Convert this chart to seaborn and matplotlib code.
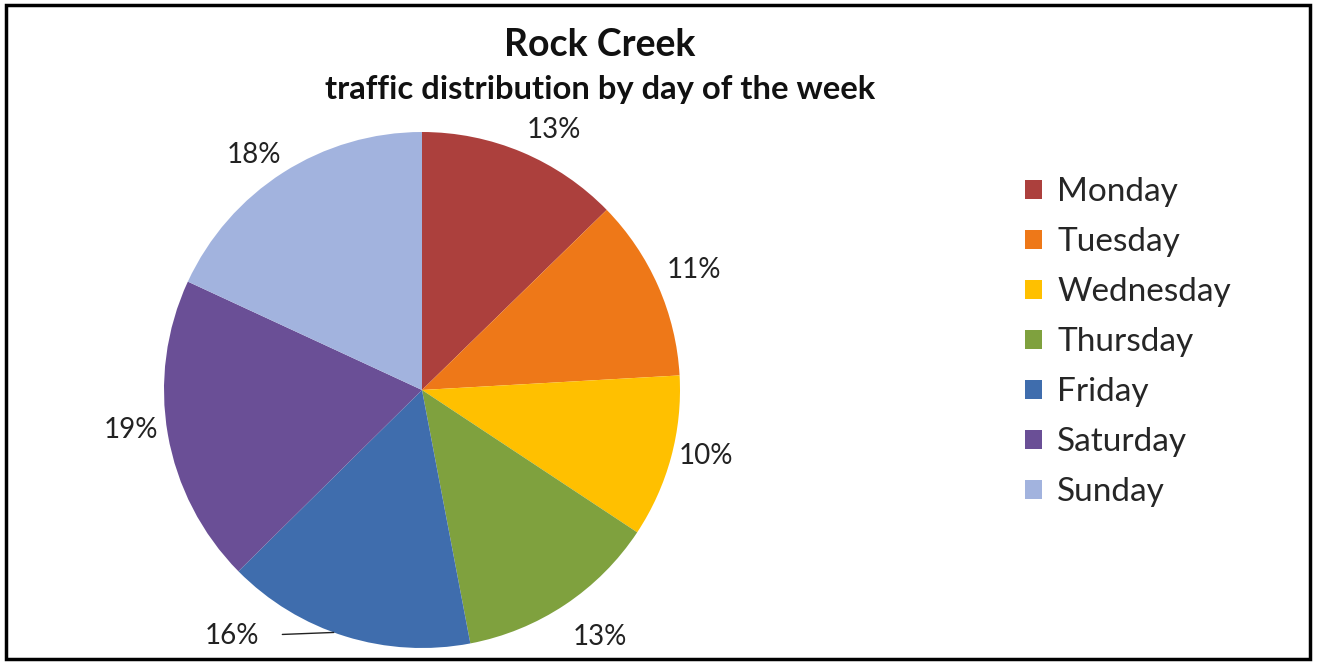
import seaborn as sns
import numpy as np
import matplotlib
matplotlib.use("Agg")
import matplotlib.pyplot as plt
from matplotlib.patches import Patch, Rectangle

# data
days = ["Monday", "Tuesday", "Wednesday", "Thursday", "Friday", "Saturday", "Sunday"]
share = [12.7, 11.4, 10.2, 12.7, 15.6, 19.3, 18.1]
pct_labels = ["13%", "11%", "10%", "13%", "16%", "19%", "18%"]
colors = ["#AC403D", "#EE7818", "#FFC000", "#7FA13E", "#3F6DAD", "#6A4F96", "#A2B3DE"]

sns.set_theme(style="white")
plt.rcParams["font.family"] = ["Lato", "DejaVu Sans"]

W, H = 1317, 662
fig = plt.figure(figsize=(W / 100, H / 100), dpi=100)
fig.patch.set_facecolor("white")

# pie axes: centre (422, 390) px, radius 258 px
cx, cy, r = 422, 390, 258
ax = fig.add_axes([(cx - r) / W, (H - cy - r) / H, 2 * r / W, 2 * r / H])
wedges, _ = ax.pie(share, colors=colors, startangle=90, counterclock=False,
                   radius=1.0, wedgeprops=dict(linewidth=0))
ax.set_xlim(-1, 1)
ax.set_ylim(-1, 1)
ax.set_aspect("equal")
ax.axis("off")

# percent labels outside the slices (radius, angle nudge in degrees)
label_r = [1.13, 1.15, 1.13, 1.18, 1.14, 1.14, 1.12]
label_nudge = [-4, 0, 2, 2, 0, -2, 3]
for w, lab, lr, dn, i in zip(wedges, pct_labels, label_r, label_nudge, range(len(days))):
    mid = np.deg2rad((w.theta1 + w.theta2) / 2 + dn)
    x, y = np.cos(mid), np.sin(mid)
    if days[i] == "Friday":
        ax.annotate(lab, xy=(np.cos(np.deg2rad(250)), np.sin(np.deg2rad(250))),
                    xytext=(-0.735, -0.955), ha="center", va="center", fontsize=20,
                    color="#222222",
                    arrowprops=dict(arrowstyle="-", color="#222222", lw=1,
                                    shrinkA=14, shrinkB=0))
    else:
        ax.text(lr * x, lr * y, lab, ha="center", va="center", fontsize=20,
                color="#222222")

fig.text(600 / W, 1 - 45 / H, "Rock Creek", ha="center", va="center",
         fontsize=27, fontweight="bold", color="#111111")
fig.text(600 / W, 1 - 90 / H, "traffic distribution by day of the week",
         ha="center", va="center", fontsize=23.6, fontweight="bold", color="#111111")

handles = [Patch(facecolor=c, edgecolor="none", label=d) for c, d in zip(colors, days)]
fig.legend(handles=handles, loc="upper left", bbox_to_anchor=(1012 / W, 1 - 164 / H),
           frameon=False, fontsize=24, handlelength=0.5, handleheight=0.5,
           handletextpad=0.45, labelspacing=0.6, borderaxespad=0)

fig.add_artist(Rectangle((6 / W, 3 / H), 1304 / W, 654 / H, transform=fig.transFigure,
                         fill=False, edgecolor="black", linewidth=2.5))

fig.savefig("out.png", dpi=100, facecolor="white")
